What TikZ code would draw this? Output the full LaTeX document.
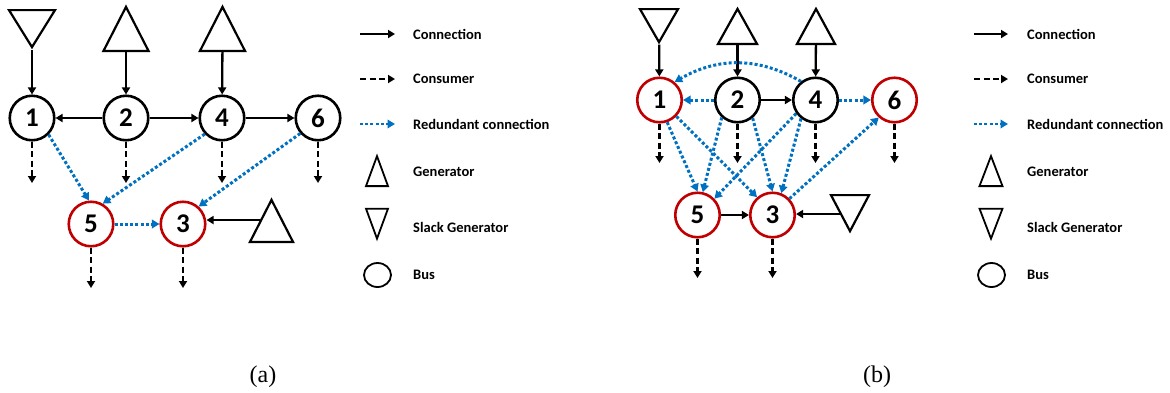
\documentclass[tikz,border=0pt]{standalone}
\usepackage{fontspec}
\setmainfont{Liberation Serif}
\newfontfamily\lblfont{Carlito}
\usetikzlibrary{arrows.meta,shapes.geometric}

\definecolor{busred}{RGB}{192,0,0}
\definecolor{linkblue}{RGB}{0,112,192}

\tikzset{
  bus/.style={circle, draw, line width=2.6pt, minimum size=44.5pt, inner sep=0pt,
    font=\lblfont\fontsize{27}{27}\selectfont\bfseries},
  redbus/.style={bus, draw=busred},
  gen/.style={isosceles triangle, isosceles triangle stretches, shape border rotate=90,
    draw, line width=2.2pt, inner sep=0pt},
  slack/.style={gen, shape border rotate=-90},
  conn/.style={line width=2.3pt, -{Triangle[length=7pt,width=8pt]}},
  cons/.style={conn, dash pattern=on 6pt off 3.5pt},
  redund/.style={line width=3pt, linkblue, dash pattern=on 3pt off 2.2pt,
    -{Triangle[length=7.5pt,width=8.5pt]}},
  legtext/.style={anchor=west, inner sep=0pt,
    font=\lblfont\fontsize{14.5}{14.5}\selectfont\bfseries},
  legsym/.style={line width=1.8pt},
  caption/.style={font=\fontsize{24}{24}\selectfont},
}

\begin{document}
\begin{tikzpicture}[x=1pt,y=1pt]
\useasboundingbox (0,0) rectangle (1170,-392);

% ---------------- (a) ----------------
\node[bus]    (a1) at (32,-118)  {1};
\node[bus]    (a2) at (126,-118) {2};
\node[bus]    (a4) at (222,-118) {4};
\node[bus]    (a6) at (318,-118) {6};
\node[redbus] (a5) at (91,-224)  {5};
\node[redbus] (a3) at (183,-224) {3};

\node[slack, minimum width=46pt, minimum height=37pt, anchor=apex] (as1) at (32,-50) {};
\node[gen, minimum width=45pt, minimum height=44pt, anchor=lower side] (ag2) at (126,-52) {};
\node[gen, minimum width=45pt, minimum height=44pt, anchor=lower side] (ag4) at (222.5,-52) {};
\node[gen, minimum width=43pt, minimum height=42pt, anchor=lower side] (ag3) at (271.5,-243) {};

\draw[conn] (as1) -- (a1);
\draw[conn] (ag2) -- (a2);
\draw[conn] (ag4) -- (a4);
\draw[conn] (ag3.left side) -- (a3.east |- ag3.left side);
\draw[conn] (a2) -- (a1);
\draw[conn] (a2) -- (a4);
\draw[conn] (a4) -- (a6);

\coordinate (ac1) at (32,-183);
\coordinate (ac2) at (126,-183);
\coordinate (ac4) at (222,-183);
\coordinate (ac6) at (318,-183);
\coordinate (ac5) at (91,-288);
\coordinate (ac3) at (183,-288);
\foreach \n in {1,2,4,6,5,3} \draw[cons] (a\n) -- (ac\n);

\draw[redund] (a1.-45) -- (a5.95);
\draw[redund] (a4.223) -- (a5.60);
\draw[redund] (a6.221) -- (a3.48);
\draw[redund] (a5) -- (a3);

% legend (a)
\coordinate (la1s) at (360,-34);  \coordinate (la1e) at (395,-34);
\coordinate (la2s) at (360,-79);  \coordinate (la2e) at (395,-79);
\coordinate (la3s) at (360,-124); \coordinate (la3e) at (395,-124);
\draw[conn] (la1s) -- (la1e);
\draw[cons] (la2s) -- (la2e);
\draw[redund, line width=2.6pt] (la3s) -- (la3e);
\node[gen, legsym, minimum width=22pt, minimum height=30pt, anchor=lower side] (lag) at (377,-187) {};
\node[slack, legsym, minimum width=22pt, minimum height=30pt, anchor=apex] (las) at (377,-241) {};
\node[ellipse, draw, legsym, minimum width=27pt, minimum height=24pt, inner sep=0pt] (lab) at (377.5,-275) {};
\node[legtext] (lat1) at (413,-34)  {Connection};
\node[legtext] (lat2) at (413,-79)  {Consumer};
\node[legtext] (lat3) at (413,-124) {Redundant connection};
\node[legtext] (lat4) at (413,-172) {Generator};
\node[legtext] (lat5) at (413,-227) {Slack Generator};
\node[legtext] (lat6) at (413,-275) {Bus};

\node[caption] (capa) at (263,-377) {(a)};

% ---------------- (b) ----------------
\node[redbus] (b1) at (659.5,-100) {1};
\node[bus]    (b2) at (737.5,-100) {2};
\node[bus]    (b4) at (815.5,-100) {4};
\node[redbus] (b6) at (894.5,-100) {6};
\node[redbus] (b5) at (697.5,-215) {5};
\node[redbus] (b3) at (772.5,-215) {3};

\node[slack, minimum width=38pt, minimum height=33pt, anchor=apex] (bs1) at (659,-45) {};
\node[gen, minimum width=39pt, minimum height=35pt, anchor=lower side] (bg2) at (737.5,-45) {};
\node[gen, minimum width=38pt, minimum height=35pt, anchor=lower side] (bg4) at (816,-45) {};
\node[slack, minimum width=38pt, minimum height=36pt, anchor=apex] (bs3) at (850,-234) {};

\draw[conn] (bs1) -- (b1);
\draw[conn] (bg2) -- (b2);
\draw[conn] (bg4) -- (b4);
\draw[conn] (bs3.right side) -- (b3.east |- bs3.right side);
\draw[conn] (b2) -- (b4);
\draw[conn] (b5) -- (b3);

\coordinate (bc1) at (659.5,-163);
\coordinate (bc2) at (737.5,-163);
\coordinate (bc4) at (815.5,-163);
\coordinate (bc6) at (894.5,-163);
\coordinate (bc5) at (697.5,-278);
\coordinate (bc3) at (772.5,-278);
\foreach \n in {1,2,4,6,5,3} \draw[cons] (b\n) -- (bc\n);

\draw[redund] (b2) -- (b1);
\draw[redund] (b4) -- (b6);
\draw[redund] (b4.128) to[out=150,in=30] (b1.50);
\draw[redund] (b1.289) -- (b5.90);
\draw[redund] (b1.316) -- (b3.131);
\draw[redund] (b2.228) -- (b5.77);
\draw[redund] (b2.310) -- (b3.90);
\draw[redund] (b4.215) -- (b5.44);
\draw[redund] (b4.232) -- (b3.68);
\draw[redund] (b3.44) -- (b6.228);

% legend (b)
\coordinate (lb1s) at (974,-34);  \coordinate (lb1e) at (1008,-34);
\coordinate (lb2s) at (974,-79);  \coordinate (lb2e) at (1008,-79);
\coordinate (lb3s) at (974,-124); \coordinate (lb3e) at (1008,-124);
\draw[conn] (lb1s) -- (lb1e);
\draw[cons] (lb2s) -- (lb2e);
\draw[redund, line width=2.6pt] (lb3s) -- (lb3e);
\node[gen, legsym, minimum width=23pt, minimum height=30pt, anchor=lower side] (lbg) at (991,-187) {};
\node[slack, legsym, minimum width=23pt, minimum height=30pt, anchor=apex] (lbs) at (991,-241) {};
\node[ellipse, draw, legsym, minimum width=27pt, minimum height=24pt, inner sep=0pt] (lbb) at (991.5,-275) {};
\node[legtext] (lbt1) at (1027,-34)  {Connection};
\node[legtext] (lbt2) at (1027,-79)  {Consumer};
\node[legtext] (lbt3) at (1027,-124) {Redundant connection};
\node[legtext] (lbt4) at (1027,-172) {Generator};
\node[legtext] (lbt5) at (1027,-227) {Slack Generator};
\node[legtext] (lbt6) at (1027,-275) {Bus};

\node[caption] (capb) at (877,-377) {(b)};
\end{tikzpicture}
\end{document}
